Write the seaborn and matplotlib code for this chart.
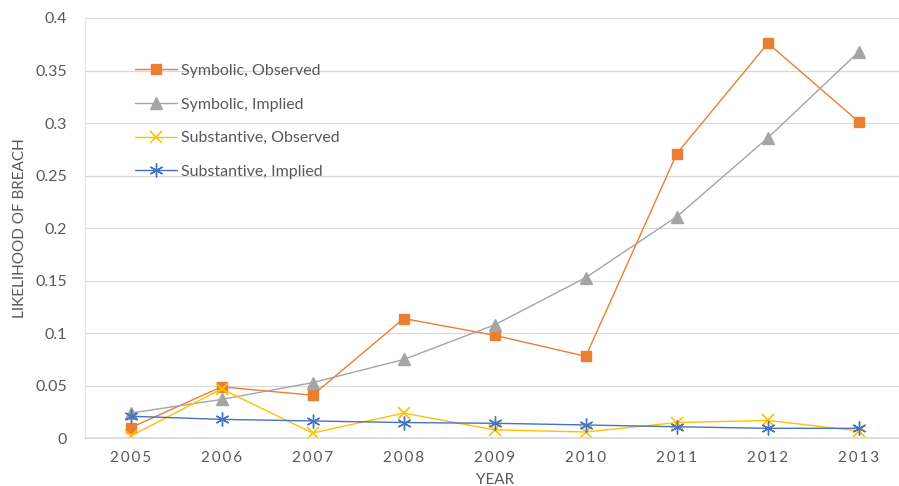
import numpy as np
import pandas as pd
import matplotlib
matplotlib.use("Agg")
import matplotlib.pyplot as plt
import seaborn as sns

years = ["2005", "2006", "2007", "2008", "2009", "2010", "2011", "2012", "2013"]
symbolic_observed = [0.010, 0.049, 0.041, 0.114, 0.098, 0.078, 0.271, 0.376, 0.301]
symbolic_implied = [0.024, 0.037, 0.053, 0.075, 0.108, 0.153, 0.211, 0.286, 0.368]
substantive_observed = [0.002, 0.047, 0.005, 0.024, 0.008, 0.006, 0.015, 0.017, 0.007]
substantive_implied = [0.021, 0.018, 0.0165, 0.015, 0.0143, 0.0127, 0.011, 0.0095, 0.0095]
series_names = ["Symbolic, Observed", "Symbolic, Implied",
                "Substantive, Observed", "Substantive, Implied"]
y_ticks = [0, 0.05, 0.1, 0.15, 0.2, 0.25, 0.3, 0.35, 0.4]
y_tick_labels = ["0", "0.05", "0.1", "0.15", "0.2", "0.25", "0.3", "0.35", "0.4"]

sns.set_theme(style="white")
plt.rcParams["font.family"] = ["Lato", "DejaVu Sans"]

df = pd.DataFrame({
    "pos": list(range(len(years))) * 4,
    "value": symbolic_observed + symbolic_implied + substantive_observed + substantive_implied,
    "series": sum([[n] * len(years) for n in series_names], []),
})

fig = plt.figure(figsize=(8.99, 4.86), dpi=100)
ax = fig.add_axes([85 / 899, 47.7 / 486, (904.5 - 85) / 899, 420.3 / 486])

styles = {
    "Symbolic, Observed": dict(color="#ED7D31", marker="s", markersize=7, mec="#ED7D31"),
    "Symbolic, Implied": dict(color="#A5A5A5", marker="^", markersize=8, mec="#A5A5A5"),
    "Substantive, Observed": dict(color="#FFC000", marker="x", markersize=8, mew=1.2),
    "Substantive, Implied": dict(color="#4472C4", marker=(6, 2, 0), markersize=10, mew=1.0),
}
for name in series_names:
    sub = df[df["series"] == name]
    st = styles[name]
    sns.lineplot(data=sub, x="pos", y="value", ax=ax, label=name,
                 color=st["color"], marker=st["marker"], markersize=st["markersize"],
                 markeredgecolor=st.get("mec", st["color"]),
                 markeredgewidth=st.get("mew", 1.0), linewidth=1.0)

ax.set_xlim(-0.5, 8.5)
ax.set_ylim(0, 0.4)
ax.set_xticks(range(len(years)))
ax.set_xticklabels(["\u2009".join(y) for y in years], fontsize=11, color="#595959",
                   family=["Lato", "DejaVu Sans"])
ax.set_yticks(y_ticks)
ax.set_yticklabels(y_tick_labels, fontsize=11.5, color="#595959")
ax.tick_params(axis="both", length=0)
ax.tick_params(axis="y", pad=13)
ax.tick_params(axis="x", pad=9)
ax.grid(axis="y", color="#D9D9D9", linewidth=0.9)
ax.set_axisbelow(True)
for s in ["top", "right"]:
    ax.spines[s].set_visible(False)
ax.spines["bottom"].set_color("#D9D9D9")
ax.spines["left"].set_color("#E6E6E6")
ax.spines["left"].set_linewidth(0.8)

ax.set_xlabel("YEAR", fontsize=11, color="#595959", labelpad=6)
ax.set_ylabel("LIKELIHOOD OF BREACH", fontsize=11, color="#595959", labelpad=6)

leg = ax.legend(loc="upper left", bbox_to_anchor=(0.061, 0.891), frameon=False,
                borderpad=0, borderaxespad=0, handlelength=2.6, handletextpad=0.25,
                labelspacing=1.22, fontsize=11.5)
for t in leg.get_texts():
    t.set_color("#595959")

fig.savefig("out.png", dpi=100)
